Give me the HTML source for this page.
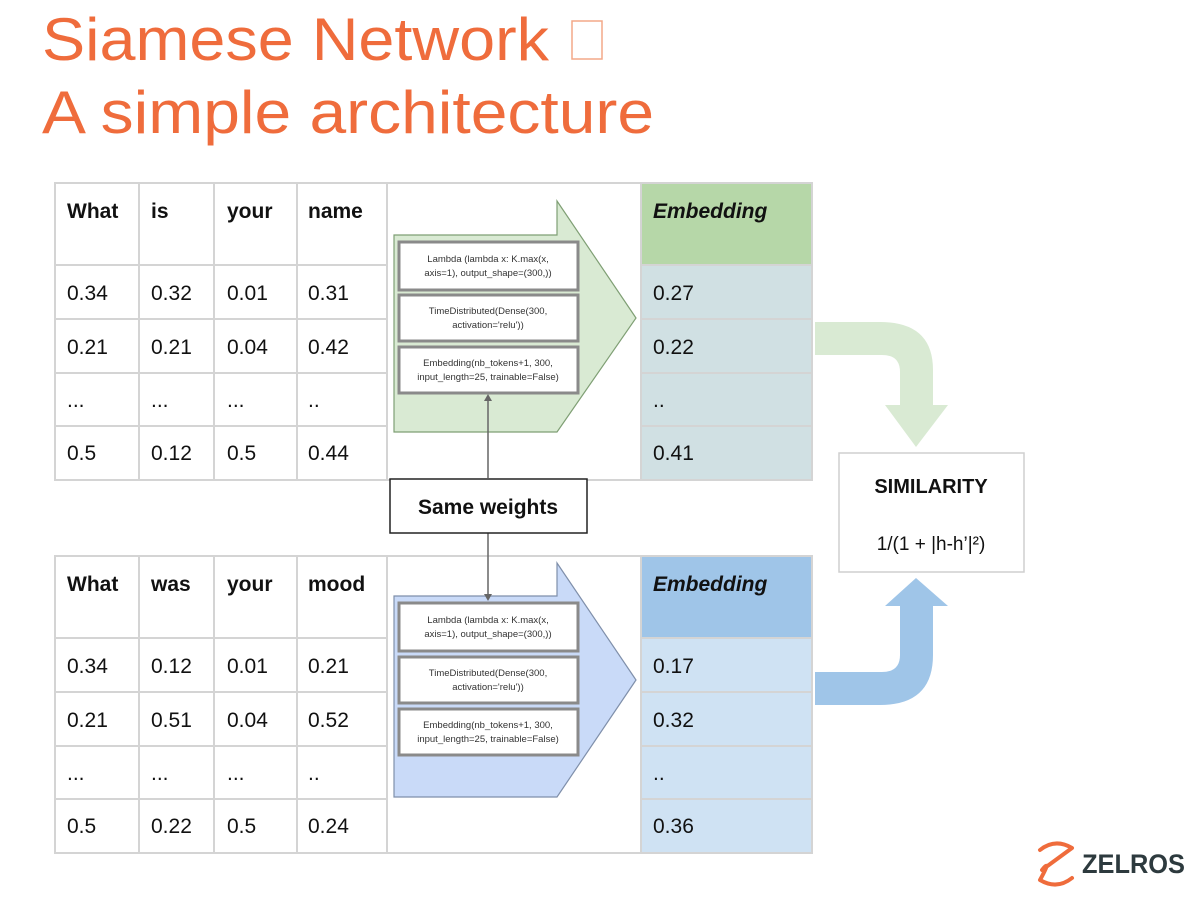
<!DOCTYPE html>
<html><head><meta charset="utf-8"><style>html,body{margin:0;padding:0;background:#fff}svg{display:block}</style></head>
<body>
<svg width="1200" height="897" viewBox="0 0 1200 897" xmlns="http://www.w3.org/2000/svg" font-family="Liberation Sans, Arial, sans-serif">
<rect width="1200" height="897" fill="#fff"/>
<!-- Title -->
<g fill="#ef6c3c" font-size="60">
<text x="42" y="60" textLength="507" lengthAdjust="spacingAndGlyphs">Siamese Network</text>
<rect x="572" y="21" width="30" height="38" fill="none" stroke="#f3a888" stroke-width="1.5"/>
<text x="42" y="133" textLength="612" lengthAdjust="spacingAndGlyphs">A simple architecture</text>
</g>

<!-- TOP TABLE -->
<g>
<rect x="641" y="183" width="171" height="82" fill="#b6d7a8"/>
<rect x="641" y="265" width="171" height="215" fill="#d0e0e3"/>
<g stroke="#d4d4d4" stroke-width="2" fill="none">
<rect x="55" y="183" width="757" height="297"/>
<line x1="55" y1="265" x2="386" y2="265"/><line x1="55" y1="319" x2="386" y2="319"/><line x1="55" y1="373" x2="386" y2="373"/><line x1="55" y1="426" x2="386" y2="426"/>
<line x1="641" y1="265" x2="812" y2="265"/><line x1="641" y1="319" x2="812" y2="319"/><line x1="641" y1="373" x2="812" y2="373"/><line x1="641" y1="426" x2="812" y2="426"/>
<line x1="139" y1="183" x2="139" y2="480"/><line x1="214" y1="183" x2="214" y2="480"/><line x1="297" y1="183" x2="297" y2="480"/><line x1="387" y1="183" x2="387" y2="480"/><line x1="641" y1="183" x2="641" y2="480"/>
</g>
<g font-size="21" fill="#111">
<g font-weight="bold"><text x="67" y="218">What</text><text x="151" y="218">is</text><text x="227" y="218">your</text><text x="308" y="218">name</text></g>
<text x="653" y="218" font-weight="bold" font-style="italic">Embedding</text>
<text x="67" y="300">0.34</text><text x="151" y="300">0.32</text><text x="227" y="300">0.01</text><text x="308" y="300">0.31</text><text x="653" y="300">0.27</text>
<text x="67" y="354">0.21</text><text x="151" y="354">0.21</text><text x="227" y="354">0.04</text><text x="308" y="354">0.42</text><text x="653" y="354">0.22</text>
<text x="67" y="407">...</text><text x="151" y="407">...</text><text x="227" y="407">...</text><text x="308" y="407">..</text><text x="653" y="407">..</text>
<text x="67" y="460">0.5</text><text x="151" y="460">0.12</text><text x="227" y="460">0.5</text><text x="308" y="460">0.44</text><text x="653" y="460">0.41</text>
</g>
<polygon points="394,235 557,235 557,201 636,318 557,432 394,432" fill="#d9ead3" stroke="#7f9f74" stroke-width="1.2"/>
<g fill="#fff" stroke="#8a8a8a" stroke-width="3">
<rect x="399" y="242" width="179" height="48"/><rect x="399" y="295" width="179" height="46"/><rect x="399" y="347" width="179" height="46"/>
</g>
<g font-size="9.5" fill="#333" text-anchor="middle">
<text x="488" y="262">Lambda (lambda x: K.max(x,</text><text x="488" y="276">axis=1), output_shape=(300,))</text>
<text x="488" y="314">TimeDistributed(Dense(300,</text><text x="488" y="328">activation='relu'))</text>
<text x="488" y="366">Embedding(nb_tokens+1, 300,</text><text x="488" y="380">input_length=25, trainable=False)</text>
</g>
</g>

<!-- BOTTOM TABLE -->
<g>
<rect x="641" y="556" width="171" height="82" fill="#9fc5e8"/>
<rect x="641" y="638" width="171" height="215" fill="#cfe2f3"/>
<g stroke="#d4d4d4" stroke-width="2" fill="none">
<rect x="55" y="556" width="757" height="297"/>
<line x1="55" y1="638" x2="386" y2="638"/><line x1="55" y1="692" x2="386" y2="692"/><line x1="55" y1="746" x2="386" y2="746"/><line x1="55" y1="799" x2="386" y2="799"/>
<line x1="641" y1="638" x2="812" y2="638"/><line x1="641" y1="692" x2="812" y2="692"/><line x1="641" y1="746" x2="812" y2="746"/><line x1="641" y1="799" x2="812" y2="799"/>
<line x1="139" y1="556" x2="139" y2="853"/><line x1="214" y1="556" x2="214" y2="853"/><line x1="297" y1="556" x2="297" y2="853"/><line x1="387" y1="556" x2="387" y2="853"/><line x1="641" y1="556" x2="641" y2="853"/>
</g>
<g font-size="21" fill="#111">
<g font-weight="bold"><text x="67" y="591">What</text><text x="151" y="591">was</text><text x="227" y="591">your</text><text x="308" y="591">mood</text></g>
<text x="653" y="591" font-weight="bold" font-style="italic">Embedding</text>
<text x="67" y="673">0.34</text><text x="151" y="673">0.12</text><text x="227" y="673">0.01</text><text x="308" y="673">0.21</text><text x="653" y="673">0.17</text>
<text x="67" y="727">0.21</text><text x="151" y="727">0.51</text><text x="227" y="727">0.04</text><text x="308" y="727">0.52</text><text x="653" y="727">0.32</text>
<text x="67" y="780">...</text><text x="151" y="780">...</text><text x="227" y="780">...</text><text x="308" y="780">..</text><text x="653" y="780">..</text>
<text x="67" y="833">0.5</text><text x="151" y="833">0.22</text><text x="227" y="833">0.5</text><text x="308" y="833">0.24</text><text x="653" y="833">0.36</text>
</g>
<polygon points="394,596 557,596 557,563 636,680 557,797 394,797" fill="#c9daf8" stroke="#7f8faa" stroke-width="1.2"/>
<g fill="#fff" stroke="#8a8a8a" stroke-width="3">
<rect x="399" y="603" width="179" height="48"/><rect x="399" y="657" width="179" height="46"/><rect x="399" y="709" width="179" height="46"/>
</g>
<g font-size="9.5" fill="#333" text-anchor="middle">
<text x="488" y="623">Lambda (lambda x: K.max(x,</text><text x="488" y="637">axis=1), output_shape=(300,))</text>
<text x="488" y="676">TimeDistributed(Dense(300,</text><text x="488" y="690">activation='relu'))</text>
<text x="488" y="728">Embedding(nb_tokens+1, 300,</text><text x="488" y="742">input_length=25, trainable=False)</text>
</g>
</g>

<!-- Same weights connectors -->
<g stroke="#666" stroke-width="1.5">
<line x1="488" y1="400" x2="488" y2="478"/>
<line x1="488" y1="533" x2="488" y2="595"/>
</g>
<polygon points="484,401 492,401 488,394" fill="#666"/>
<polygon points="484,594 492,594 488,601" fill="#666"/>
<rect x="390" y="479" width="197" height="54" fill="#fff" stroke="#222" stroke-width="1.5"/>
<text x="488" y="514" font-size="21" font-weight="bold" text-anchor="middle" fill="#111">Same weights</text>

<!-- curved arrows -->
<path d="M815,322 L880,322 Q933,322 933,370 L933,405 L948,405 L916,447 L885,405 L900,405 L900,372 Q900,355 882,355 L815,355 Z" fill="#d9ead3"/>
<path d="M815,705 L880,705 Q933,705 933,655 L933,606 L948,606 L916,578 L885,606 L900,606 L900,655 Q900,672 882,672 L815,672 Z" fill="#9fc5e8"/>

<!-- Similarity -->
<rect x="839" y="453" width="185" height="119" fill="#fff" stroke="#cfcfcf" stroke-width="1.5"/>
<text x="931" y="493" font-size="20" font-weight="bold" text-anchor="middle" fill="#111">SIMILARITY</text>
<text x="931" y="550" font-size="19" text-anchor="middle" fill="#111">1/(1 + |h-h’|²)</text>

<!-- Logo -->
<path d="M1040,850 Q1055,838 1072,848 L1042,870 Q1052,858 1040,880 Q1057,890 1072,878" fill="none" stroke="#ef6c3c" stroke-width="4" stroke-linecap="round" stroke-linejoin="round"/>
<text x="1082" y="873" font-size="27" font-weight="bold" fill="#2d3a3e" textLength="103" lengthAdjust="spacingAndGlyphs">ZELROS</text>
</svg>
</body></html>
